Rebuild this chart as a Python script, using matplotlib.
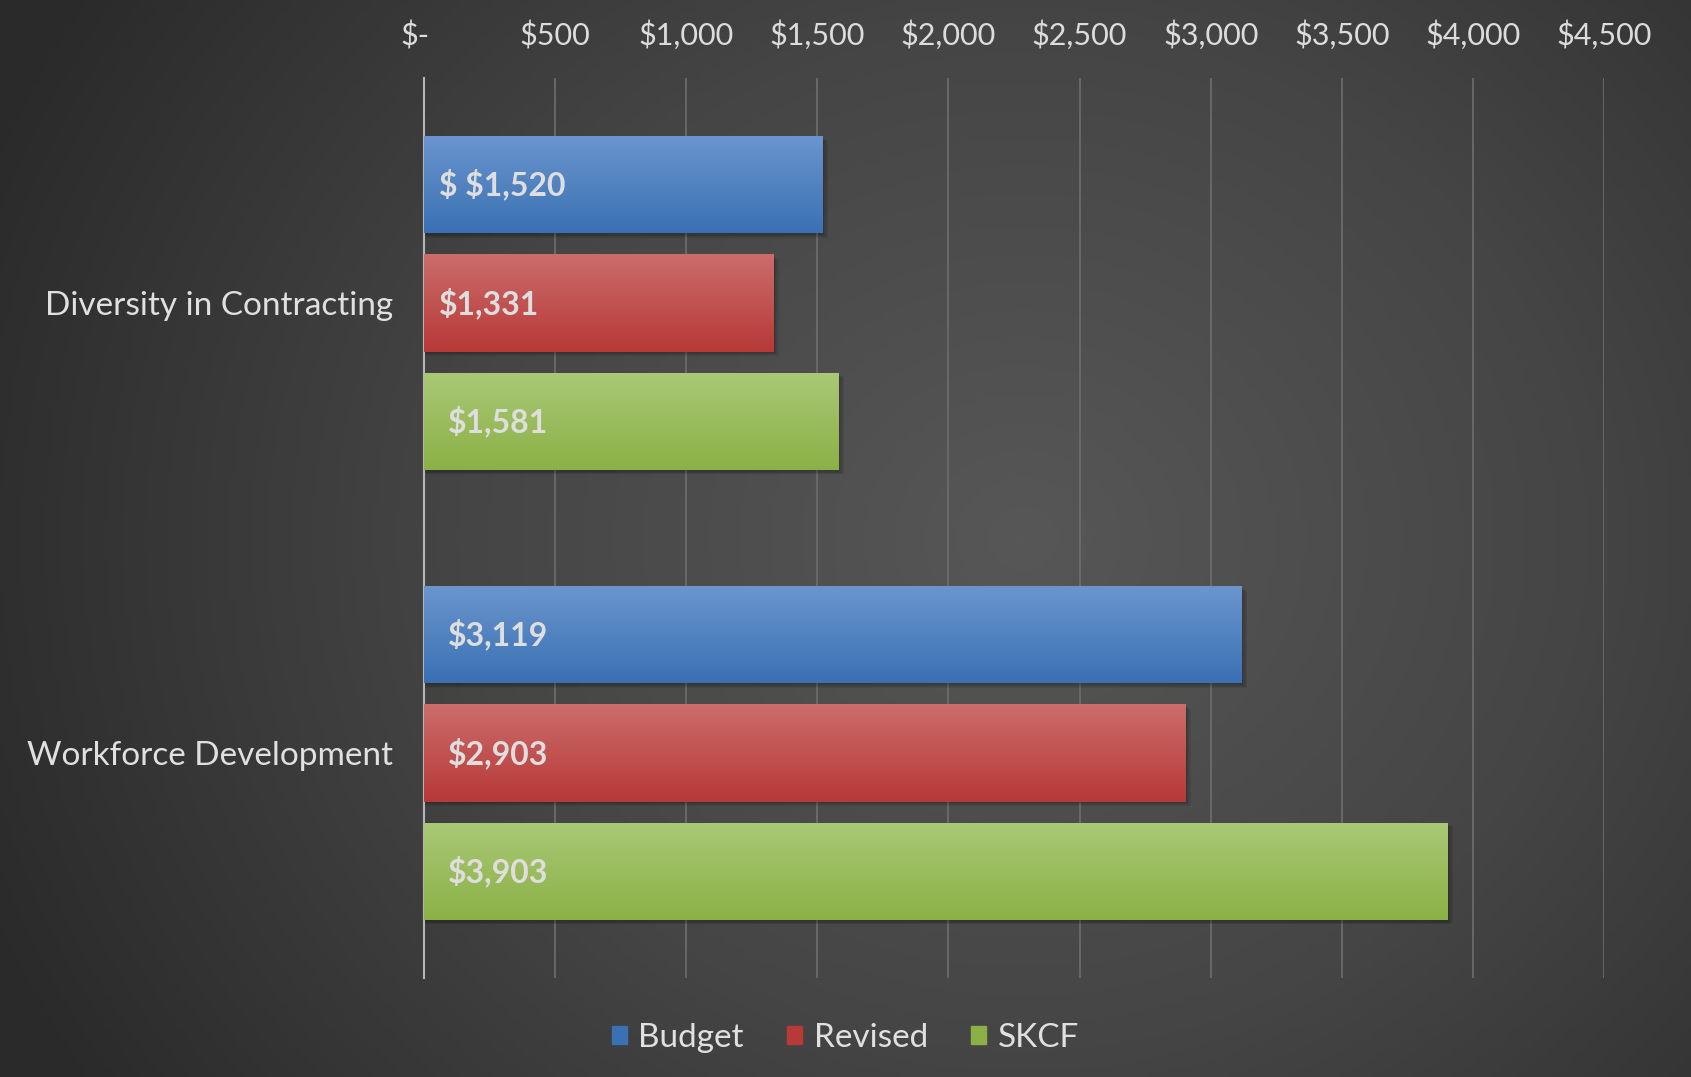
import numpy as np
import matplotlib.pyplot as plt
import matplotlib.transforms as mtransforms
from matplotlib.colors import LinearSegmentedColormap

categories = ['Diversity in Contracting', 'Workforce Development']
series = ['Budget', 'Revised', 'SKCF']
budget = [1520, 3119]
revised = [1331, 2903]
skcf = [1581, 3903]
bar_labels = [['$ $1,520', '$3,119'], ['$1,331', '$2,903'], ['$1,581', '$3,903']]
xticks = [0, 500, 1000, 1500, 2000, 2500, 3000, 3500, 4000, 4500]
xtick_labels = ['$-', '$500', '$1,000', '$1,500', '$2,000', '$2,500',
                '$3,000', '$3,500', '$4,000', '$4,500']

plt.rcParams['font.family'] = ['Lato', 'DejaVu Sans']
plt.rcParams['text.parse_math'] = False

fig = plt.figure(figsize=(16.91, 10.77), dpi=100)

# radial background
bg = fig.add_axes([0, 0, 1, 1], zorder=-10)
yy, xx = np.mgrid[0:1:300j, 0:1.57:470j]
r = np.sqrt((xx - 0.95) ** 2 + ((yy - 0.5) * 1.1) ** 2)
r = np.clip(r / 1.05, 0, 1)
bg_cmap = LinearSegmentedColormap.from_list('bg', ['#575757', '#454545', '#2a2a2a'])
bg.imshow(r, cmap=bg_cmap, aspect='auto', extent=[0, 1, 0, 1], vmin=0, vmax=1)
bg.axis('off')

ax = fig.add_axes([0.2507, 0.0919, 0.6979, 0.8357])
ax.patch.set_alpha(0)

cols = [('#6b95cd', '#3a71b4'), ('#cb6d6b', '#b73938'), ('#aac876', '#8bb146')]
data = [budget, revised, skcf]
offsets = [-0.263, 0, 0.263]
h = 0.216
ypos = np.arange(len(categories))

grad = np.linspace(0, 1, 100).reshape(-1, 1)
for i, vals in enumerate(data):
    cmap = LinearSegmentedColormap.from_list('g%d' % i, [cols[i][0], cols[i][1]])
    y = ypos + offsets[i]
    # soft shadow, a few stacked layers
    for k in range(4):
        ax.barh(y + 0.004 + 0.002 * k, np.array(vals) + 6 + 5 * k, height=h, left=0,
                color='black', alpha=0.07, zorder=2, linewidth=0)
    bars = ax.barh(y, vals, height=h, color=cols[i][1], zorder=3, label=series[i])
    for j, (b, v, lab) in enumerate(zip(bars, vals, bar_labels[i])):
        x0, y0 = b.get_x(), b.get_y()
        im = ax.imshow(grad, cmap=cmap, aspect='auto', zorder=3.5,
                       extent=[x0, x0 + v, y0 + h, y0])
        im.set_clip_path(b)
        dx = 11 if (j == 0 and i < 2) else 17
        ax.annotate(lab, (0, y0 + h / 2), xytext=(dx, 0),
                    textcoords='offset points', va='center', ha='left',
                    fontsize=23, fontweight='bold', color='#dedede', zorder=5)

ax.set_xlim(0, 4500)
ax.set_ylim(1.5, -0.5)
ax.set_xticks(xticks)
ax.set_xticklabels(xtick_labels)
ax.xaxis.tick_top()
ax.tick_params(axis='x', length=0, pad=20, labelsize=22, labelcolor='#dcdcdc')
# the "$-" label sits a little to the left of its tick
lbl0 = ax.get_xticklabels()[0]
lbl0.set_transform(lbl0.get_transform() + mtransforms.ScaledTranslation(-0.09, 0, fig.dpi_scale_trans))
ax.set_yticks(ypos)
ax.set_yticklabels(categories)
ax.tick_params(axis='y', length=0, pad=22, labelsize=24, labelcolor='#e0e0e0')
ax.grid(axis='x', color='#6e6e6e', linewidth=1.2, zorder=0)
ax.set_axisbelow(True)
for s in ['top', 'right', 'bottom']:
    ax.spines[s].set_visible(False)
ax.spines['left'].set_color('#b5b5b5')
ax.spines['left'].set_linewidth(1.5)

handles, labels = ax.get_legend_handles_labels()
leg = fig.legend(handles, labels, loc='center', bbox_to_anchor=(0.5, 0.036), ncol=3,
                 frameon=False, fontsize=24,
                 handlelength=0.45, handleheight=0.45,
                 handletextpad=0.35, columnspacing=1.3, labelcolor='#e0e0e0')
for hnd, c in zip(leg.legend_handles, cols):
    hnd.set_color(c[1])

fig.savefig('out.png', dpi=100)
